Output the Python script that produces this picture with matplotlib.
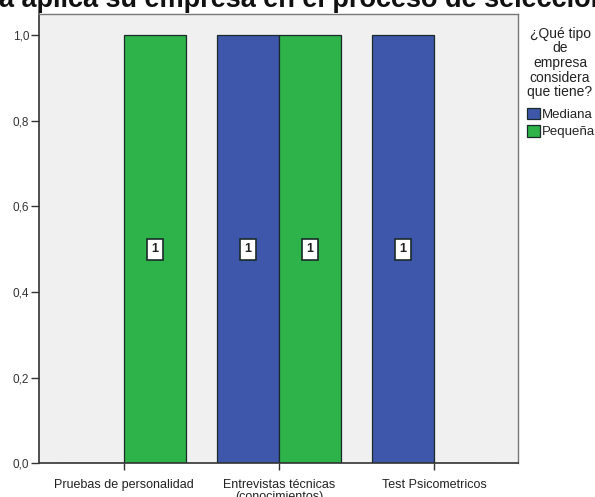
import matplotlib
matplotlib.use("Agg")
import matplotlib.pyplot as plt
import numpy as np
from matplotlib.ticker import FuncFormatter

categories = ["Pruebas de personalidad", "Entrevistas técnicas\n(conocimientos)", "Test Psicometricos"]
series_names = ["Mediana", "Pequeña"]
mediana = [0, 1, 1]
pequena = [1, 1, 0]
title = "a aplica su empresa en el proceso de selección"
legend_title = "¿Qué tipo\nde\nempresa\nconsidera\nque tiene?"
colors = ["#3F57AA", "#2EB34A"]

plt.rcParams['font.family'] = ['Liberation Sans', 'DejaVu Sans']

W, H = 595, 497
fig = plt.figure(figsize=(W/100, H/100), dpi=100)
ax = fig.add_axes([39/W, (H-463.3)/H, (518-39)/W, (463.3-14)/H])
ax.set_facecolor("#F0F0F0")

x = np.arange(len(categories))
w = 0.4
handles = []
for i, (vals, col, name) in enumerate(zip([mediana, pequena], colors, series_names)):
    pos = x - w/2 if i == 0 else x + w/2
    b = ax.bar(pos, vals, width=w, color=col, edgecolor="#1a2a2a", linewidth=0.9, label=name, zorder=2)
    handles.append(b)
    for p, v in zip(pos, vals):
        if v > 0:
            ax.text(p, v/2, str(v), ha="center", va="center", fontsize=9, fontweight="bold",
                    color="#222222", zorder=3,
                    bbox=dict(boxstyle="square,pad=0.35", fc="white", ec="#1a2a2a", lw=1.2))

ax.set_xlim(-0.545, 2.54)
ax.set_ylim(0, 1.049)
ax.set_yticks([0, 0.2, 0.4, 0.6, 0.8, 1.0])
ax.yaxis.set_major_formatter(FuncFormatter(lambda v, p: f"{v:.1f}".replace(".", ",")))
ax.set_xticks(x)
ax.set_xticklabels(categories, linespacing=1.1)
ax.tick_params(axis="y", length=6, width=1.0, color="#333333", labelsize=8.5, labelcolor="#333333", pad=1)
ax.tick_params(axis="x", length=5, width=1.0, color="#333333", labelsize=9, labelcolor="#222222", pad=6)
for s in ["top", "right"]:
    ax.spines[s].set_color("#777777")
    ax.spines[s].set_linewidth(1.0)
for s in ["left", "bottom"]:
    ax.spines[s].set_color("#333333")
    ax.spines[s].set_linewidth(1.2)

fig.text(-1/W, 1 - 7/H, title, ha="left", va="baseline", fontsize=19.5, fontweight="bold", color="#111111")

fig.text(560/W, 1 - 63/H, legend_title, ha="center", va="center", multialignment="center",
         fontsize=10, linespacing=1.05, color="#222222")

leg = fig.legend(handles=handles, labels=series_names,
                 loc="upper left", bbox_to_anchor=(527/W, 1 - 108/H),
                 frameon=False, fontsize=9.5,
                 handlelength=0.95, handleheight=0.95, handletextpad=0.15,
                 labelspacing=0.3, borderaxespad=0, borderpad=0)
for t in leg.get_texts():
    t.set_color("#222222")

fig.savefig("out.png", dpi=100)
